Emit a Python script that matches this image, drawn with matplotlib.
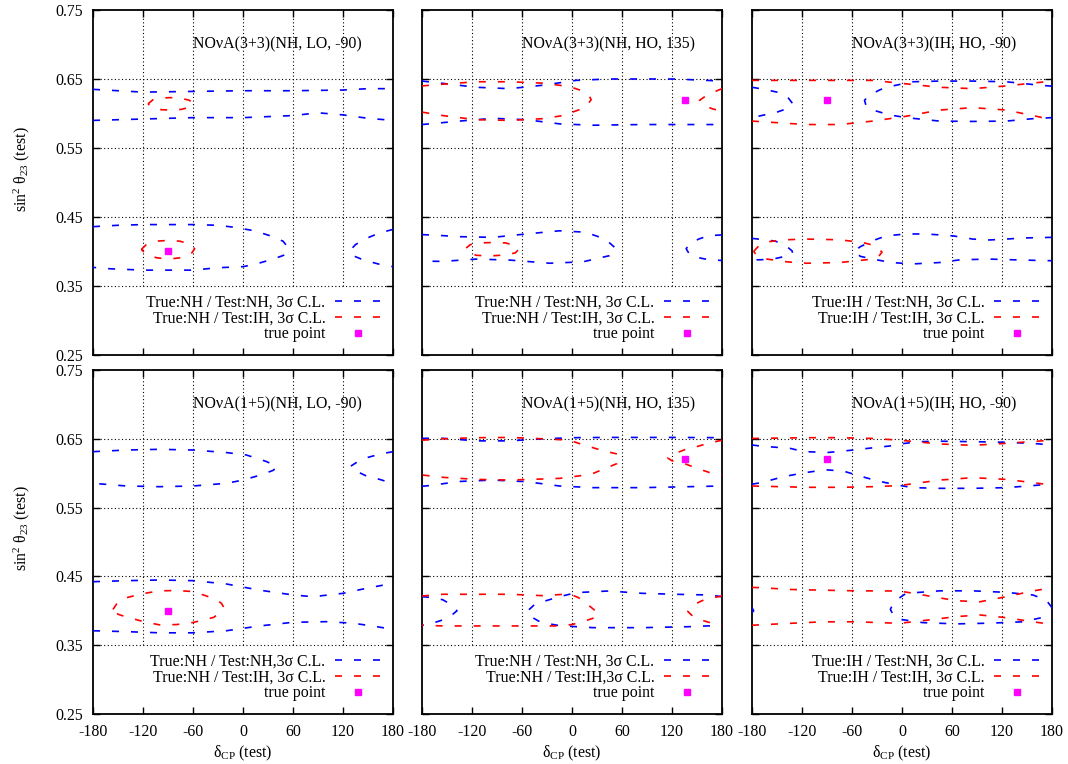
import matplotlib
matplotlib.use("Agg")
import matplotlib.pyplot as plt
import numpy as np

plt.rcParams['font.family'] = ['Liberation Serif', 'DejaVu Serif']
plt.rcParams['mathtext.fontset'] = 'custom'
plt.rcParams['mathtext.rm'] = 'Liberation Serif'
plt.rcParams['mathtext.it'] = 'Liberation Serif:italic'
plt.rcParams['axes.unicode_minus'] = False

# ---------------- data (delta_CP [deg], sin^2 theta23) ----------------
x_ticks = [-180, -120, -60, 0, 60, 120, 180]
y_ticks = [0.25, 0.35, 0.45, 0.55, 0.65, 0.75]

titles = ["NOνA(3+3)(NH, LO, -90)", "NOνA(3+3)(NH, HO, 135)", "NOνA(3+3)(IH, HO, -90)",
          "NOνA(1+5)(NH, LO, -90)", "NOνA(1+5)(NH, HO, 135)", "NOνA(1+5)(IH, HO, -90)"]
blue_labels = ["True:NH / Test:NH, 3σ C.L.", "True:NH / Test:NH, 3σ C.L.", "True:IH / Test:NH, 3σ C.L.",
               "True:NH / Test:NH,3σ C.L.", "True:NH / Test:NH, 3σ C.L.", "True:IH / Test:NH, 3σ C.L."]
red_labels = ["True:NH / Test:IH, 3σ C.L.", "True:NH / Test:IH, 3σ C.L.", "True:IH / Test:IH, 3σ C.L.",
              "True:NH / Test:IH, 3σ C.L.", "True:NH / Test:IH,3σ C.L.", "True:IH / Test:IH, 3σ C.L."]
true_x = [-90, 135, -90, -90, 135, -90]
true_y = [0.40, 0.62, 0.62, 0.40, 0.62, 0.62]

# Panel 1: NOvA(3+3)(NH, LO, -90)
p1_blue_a = [(-180, 0.635), (-120, 0.631), (-60, 0.632), (0, 0.633), (60, 0.633), (120, 0.634), (150, 0.636), (180, 0.636)]
p1_blue_b = [(-180, 0.590), (-120, 0.592), (-60, 0.594), (0, 0.594), (60, 0.597), (90, 0.601), (120, 0.598), (150, 0.593), (180, 0.590)]
p1_blue_c = [(-180, 0.436), (-150, 0.438), (-120, 0.439), (-60, 0.439), (-30, 0.438), (-10, 0.435), (14, 0.430), (32, 0.423),
             (48, 0.415), (54, 0.406), (50, 0.395), (36, 0.389), (16, 0.382), (0, 0.378), (-30, 0.3765), (-60, 0.373),
             (-120, 0.373), (-160, 0.375), (-180, 0.377)]
p1_blue_d = [(180, 0.432), (164, 0.427), (148, 0.419), (135, 0.410), (128, 0.401), (132, 0.394), (144, 0.388), (162, 0.382), (180, 0.378)]
p1_red_a = [(-114, 0.614), (-108, 0.620), (-98, 0.6225), (-87, 0.623), (-74, 0.622), (-64, 0.619), (-60, 0.614), (-64, 0.609),
            (-74, 0.606), (-87, 0.605), (-98, 0.6055), (-108, 0.608), (-114, 0.614)]
p1_red_b = [(-122, 0.403), (-116, 0.410), (-104, 0.415), (-90, 0.416), (-76, 0.415), (-64, 0.411), (-58, 0.404), (-62, 0.397),
            (-74, 0.391), (-90, 0.389), (-104, 0.391), (-116, 0.396), (-122, 0.403)]

# Panel 2: NOvA(3+3)(NH, HO, 135)
p2_blue_a = [(-180, 0.647), (-150, 0.643), (-115, 0.638), (-75, 0.636), (-35, 0.641), (5, 0.648), (44, 0.650), (124, 0.650), (180, 0.647)]
p2_blue_b = [(-180, 0.584), (-135, 0.589), (-95, 0.593), (-55, 0.591), (-15, 0.585), (25, 0.583), (84, 0.584), (180, 0.584)]
p2_blue_c = [(-180, 0.4245), (-155, 0.423), (-135, 0.4215), (-95, 0.4205), (-55, 0.4254), (-15, 0.430), (16, 0.428), (40, 0.418),
             (53, 0.404), (45, 0.394), (13, 0.385), (-27, 0.383), (-75, 0.3876), (-115, 0.389), (-155, 0.3857), (-180, 0.386)]
p2_blue_d = [(180, 0.424), (164, 0.423), (152, 0.418), (141, 0.411), (137, 0.404), (141, 0.396), (150, 0.3915), (164, 0.388), (180, 0.387)]
p2_red_a = [(-180, 0.640), (-155, 0.6425), (-115, 0.646), (-75, 0.646), (-35, 0.644), (-3, 0.639), (12, 0.633), (20, 0.627),
            (23, 0.620), (18, 0.612), (10, 0.606), (-11, 0.597), (-35, 0.5925), (-75, 0.590), (-115, 0.591), (-155, 0.597), (-180, 0.602)]
p2_red_b = [(180, 0.636), (170, 0.631), (160, 0.625), (153, 0.619), (158, 0.612), (168, 0.607), (180, 0.603)]
p2_red_c = [(-127, 0.405), (-122, 0.410), (-110, 0.4125), (-95, 0.413), (-80, 0.4125), (-69, 0.409), (-64, 0.403), (-68, 0.398),
            (-80, 0.395), (-99, 0.3935), (-115, 0.3945), (-124, 0.399), (-127, 0.405)]

# Panel 3: NOvA(3+3)(IH, HO, -90)
p3_blue_a = [(-180, 0.638), (-165, 0.635), (-150, 0.631), (-138, 0.625), (-131, 0.614), (-138, 0.607), (-150, 0.602), (-165, 0.598), (-180, 0.594)]
p3_blue_b = [(180, 0.6396), (165, 0.641), (125, 0.646), (85, 0.647), (45, 0.647), (13, 0.646), (1, 0.643), (-19, 0.638), (-27, 0.634),
             (-40, 0.626), (-45, 0.619), (-43, 0.611), (-35, 0.605), (-15, 0.598), (5, 0.594), (45, 0.589), (85, 0.5885),
             (125, 0.589), (157, 0.5925), (180, 0.594)]
p3_blue_c = [(-180, 0.419), (-165, 0.417), (-152, 0.415), (-140, 0.409), (-132, 0.401), (-131, 0.397), (-140, 0.393), (-155, 0.389), (-170, 0.388), (-180, 0.388)]
p3_blue_d = [(180, 0.4205), (145, 0.4196), (125, 0.418), (105, 0.4167), (85, 0.418), (61, 0.4227), (29, 0.4254), (5, 0.4254),
             (-19, 0.4227), (-35, 0.4157), (-50, 0.407), (-58, 0.400), (-50, 0.393), (-35, 0.389), (-13, 0.384), (13, 0.382),
             (45, 0.384), (70, 0.388), (105, 0.389), (145, 0.3876), (180, 0.3866)]
p3_red_a = [(-180, 0.648), (-115, 0.648), (-35, 0.648), (5, 0.643), (45, 0.638), (85, 0.636), (125, 0.640), (180, 0.647)]
p3_red_b = [(-180, 0.589), (-115, 0.584), (-75, 0.584), (-35, 0.589), (5, 0.596), (45, 0.605), (85, 0.6085), (125, 0.605), (165, 0.595), (180, 0.591)]
p3_red_c = [(-178, 0.400), (-172, 0.408), (-162, 0.414), (-140, 0.417), (-115, 0.418), (-75, 0.417), (-47, 0.413), (-31, 0.408),
            (-24, 0.399), (-28, 0.393), (-35, 0.389), (-75, 0.384), (-115, 0.383), (-138, 0.385), (-162, 0.389), (-174, 0.394), (-178, 0.400)]

# Panel 4: NOvA(1+5)(NH, LO, -90)
p4_blue_a = [(-180, 0.6313), (-140, 0.6337), (-100, 0.6347), (-60, 0.6337), (-20, 0.630), (4, 0.6265), (28, 0.617), (37, 0.612),
             (41, 0.609), (36, 0.604), (20, 0.597), (0, 0.590), (-20, 0.5853), (-60, 0.5814), (-100, 0.5804), (-140, 0.5814), (-180, 0.5853)]
p4_blue_b = [(180, 0.6313), (165, 0.628), (150, 0.623), (138, 0.617), (129, 0.610), (134, 0.604), (148, 0.596), (164, 0.591), (180, 0.585)]
p4_blue_c = [(-180, 0.4423), (-140, 0.4438), (-100, 0.4448), (-60, 0.4438), (-20, 0.439), (20, 0.430), (60, 0.423), (84, 0.4205),
             (120, 0.4254), (148, 0.4327), (180, 0.440)]
p4_blue_d = [(-180, 0.371), (-140, 0.3697), (-100, 0.368), (-60, 0.368), (-20, 0.371), (20, 0.378), (60, 0.3833), (100, 0.3842),
             (132, 0.382), (160, 0.377), (180, 0.373)]
p4_red_a = [(-156, 0.402), (-150, 0.413), (-140, 0.419), (-120, 0.425), (-100, 0.429), (-80, 0.4295), (-60, 0.428), (-45, 0.422),
            (-32, 0.416), (-26, 0.411), (-23, 0.405), (-27, 0.398), (-35, 0.3905), (-60, 0.383), (-80, 0.380), (-100, 0.3795),
            (-120, 0.3845), (-140, 0.391), (-150, 0.395), (-156, 0.402)]

# Panel 5: NOvA(1+5)(NH, HO, 135)
p5_blue_a = [(-180, 0.6507), (-155, 0.6507), (-115, 0.647), (-75, 0.647), (-35, 0.650), (0, 0.6516), (44, 0.652), (124, 0.652), (180, 0.6516)]
p5_blue_b = [(-180, 0.581), (-171, 0.582), (-135, 0.588), (-95, 0.590), (-55, 0.5877), (-15, 0.5814), (25, 0.579), (84, 0.579), (180, 0.5814)]
p5_blue_c = [(-180, 0.4205), (-165, 0.419), (-155, 0.416), (-145, 0.409), (-138, 0.400), (-145, 0.393), (-157, 0.386), (-170, 0.381), (-180, 0.379)]
p5_blue_d = [(180, 0.4205), (164, 0.423), (124, 0.424), (84, 0.4254), (44, 0.4288), (5, 0.4264), (-15, 0.4205), (-35, 0.4133),
             (-45, 0.409), (-54, 0.399), (-50, 0.392), (-40, 0.385), (-27, 0.381), (-15, 0.3784), (25, 0.3755), (84, 0.3755),
             (144, 0.377), (180, 0.379)]
p5_red_a = [(-180, 0.648), (-155, 0.650), (-115, 0.6516), (-75, 0.652), (-35, 0.650), (-3, 0.648), (9, 0.643), (20, 0.639),
            (36, 0.633), (54, 0.628), (58, 0.624), (54, 0.614), (44, 0.609), (26, 0.600), (8, 0.596), (-15, 0.5925),
            (-35, 0.5916), (-75, 0.590), (-115, 0.591), (-155, 0.594), (-180, 0.5974)]
p5_red_b = [(180, 0.648), (162, 0.643), (148, 0.638), (135, 0.634), (122, 0.628), (115, 0.622), (120, 0.618), (135, 0.614),
            (150, 0.607), (165, 0.601), (180, 0.5974)]
p5_red_c = [(-180, 0.4215), (-155, 0.424), (-115, 0.424), (-75, 0.424), (-35, 0.422), (-3, 0.4245), (8, 0.419), (17, 0.411),
            (27, 0.401), (32, 0.394), (25, 0.389), (12, 0.384), (0, 0.380), (-15, 0.378), (-35, 0.378), (-75, 0.378),
            (-115, 0.378), (-155, 0.378), (-180, 0.379)]
p5_red_d = [(180, 0.4215), (165, 0.418), (156, 0.4147), (145, 0.408), (139, 0.399), (145, 0.392), (152, 0.3876), (165, 0.383), (180, 0.379)]

# Panel 6: NOvA(1+5)(IH, HO, -90)
p6_blue_a = [(-180, 0.641), (-170, 0.6395), (-134, 0.636), (-118, 0.6315), (-90, 0.630), (-60, 0.6335), (-30, 0.6376), (-15, 0.6395),
             (1, 0.643), (21, 0.6458), (45, 0.6465), (85, 0.6458), (125, 0.645), (160, 0.643), (180, 0.641)]
p6_blue_b = [(-180, 0.584), (-168, 0.5865), (-142, 0.595), (-118, 0.6005), (-92, 0.605), (-70, 0.603), (-51, 0.596), (-30, 0.589),
             (-9, 0.5835), (13, 0.579), (45, 0.578), (85, 0.578), (125, 0.579), (157, 0.582), (180, 0.5843)]
p6_blue_c = [(180, 0.4045), (173, 0.4157), (157, 0.423), (125, 0.4268), (85, 0.429), (45, 0.429), (5, 0.4254), (-4, 0.418),
             (-10, 0.412), (-14, 0.402), (-10, 0.393), (-4, 0.388), (25, 0.3828), (65, 0.381), (105, 0.382), (145, 0.384),
             (173, 0.3915), (180, 0.3975)]
p6_blue_d = [(-180, 0.4045), (-178, 0.400), (-180, 0.3975)]
p6_red_a = [(-180, 0.6505), (-115, 0.6516), (-75, 0.6516), (-35, 0.6505), (-3, 0.648), (45, 0.6425), (85, 0.6405), (125, 0.6434), (180, 0.648)]
p6_red_b = [(-180, 0.5814), (-115, 0.5795), (-75, 0.5795), (-35, 0.5804), (-3, 0.582), (45, 0.590), (85, 0.5935), (125, 0.591), (180, 0.5828)]
p6_red_c = [(-180, 0.434), (-170, 0.4336), (-134, 0.431), (-95, 0.430), (-55, 0.429), (-3, 0.4288), (25, 0.423), (65, 0.4147),
            (93, 0.413), (125, 0.4205), (157, 0.4288), (180, 0.4336)]
p6_red_d = [(-180, 0.379), (-134, 0.3818), (-95, 0.384), (-55, 0.384), (-3, 0.3818), (25, 0.3857), (65, 0.3915), (93, 0.394),
            (125, 0.390), (157, 0.384), (180, 0.3803)]

panel_blue = [[p1_blue_a, p1_blue_b, p1_blue_c, p1_blue_d],
              [p2_blue_a, p2_blue_b, p2_blue_c, p2_blue_d],
              [p3_blue_a, p3_blue_b, p3_blue_c, p3_blue_d],
              [p4_blue_a, p4_blue_b, p4_blue_c, p4_blue_d],
              [p5_blue_a, p5_blue_b, p5_blue_c, p5_blue_d],
              [p6_blue_a, p6_blue_b, p6_blue_c, p6_blue_d]]
panel_red = [[p1_red_a, p1_red_b],
             [p2_red_a, p2_red_b, p2_red_c],
             [p3_red_a, p3_red_b, p3_red_c],
             [p4_red_a],
             [p5_red_a, p5_red_b, p5_red_c, p5_red_d],
             [p6_red_a, p6_red_b, p6_red_c, p6_red_d]]

# ---------------- figure ----------------
W, H = 1068, 764
fig = plt.figure(figsize=(W / 100, H / 100), dpi=100)
lefts_px = [93, 422, 752]
rows_px = [(10, 355), (370, 714)]
pw = 300
FS = 11.4
LW = 1.2
dash = (4.2, 7.2)

for i in range(6):
    r, c = divmod(i, 3)
    top, bot = rows_px[r]
    ax = fig.add_axes([lefts_px[c] / W, 1 - bot / H, pw / W, (bot - top) / H])
    ax.set_xlim(-180, 180)
    ax.set_ylim(0.25, 0.75)

    # grid (dotted), not drawn in the key area below 0.35
    for xv in x_ticks[1:-1]:
        ax.plot([xv, xv], [0.35, 0.75], color='black', lw=0.8, ls=(0, (1, 2.2)), zorder=1)
    for yv in y_ticks[1:-1]:
        ax.plot([-180, 180], [yv, yv], color='black', lw=0.8, ls=(0, (1, 2.2)), zorder=1)

    for k, curve in enumerate(panel_blue[i]):
        xs, ys = zip(*curve)
        ax.plot(xs, ys, color='#0000ff', lw=LW, dashes=dash,
                label=blue_labels[i] if k == 0 else None, zorder=3)
    for k, curve in enumerate(panel_red[i]):
        xs, ys = zip(*curve)
        ax.plot(xs, ys, color='#ff0000', lw=LW, dashes=dash,
                label=red_labels[i] if k == 0 else None, zorder=3)
    ax.plot([true_x[i]], [true_y[i]], ls='none', marker='s', ms=4.0, color='#ff00ff',
            label='true point', zorder=4)

    ax.text(-60, 0.70, titles[i], fontsize=FS, ha='left', va='center', zorder=2)

    ax.set_xticks(x_ticks)
    ax.set_yticks(y_ticks)
    ax.tick_params(direction='in', length=5, width=1.0, top=True, right=True,
                   labelsize=FS, pad=7)
    if c == 0:
        ax.set_yticklabels(['%.2f' % v for v in y_ticks])
        ax.set_ylabel(r'$\mathrm{sin}^{2}\ \mathrm{\theta}_{23}$ (test)', fontsize=FS)
        ax.yaxis.set_label_coords(-0.205, 0.54)
    else:
        ax.set_yticklabels([])
    if r == 1:
        ax.set_xticklabels(['%d' % v for v in x_ticks])
        ax.set_xlabel(r'$\mathrm{\delta}_{\mathrm{CP}}$ (test)', fontsize=FS, labelpad=3)
    else:
        ax.set_xticklabels([])
    for s in ax.spines.values():
        s.set_linewidth(1.3)

    leg = ax.legend(loc='lower right', bbox_to_anchor=(0.962, 0.037), frameon=False,
                    fontsize=FS, markerfirst=False, handlelength=2.95, handletextpad=0.6,
                    labelspacing=0.0, borderpad=0.0, borderaxespad=0.0)
    for t in leg.get_texts():
        t.set_ha('right')

fig.savefig('out.png', dpi=100)
